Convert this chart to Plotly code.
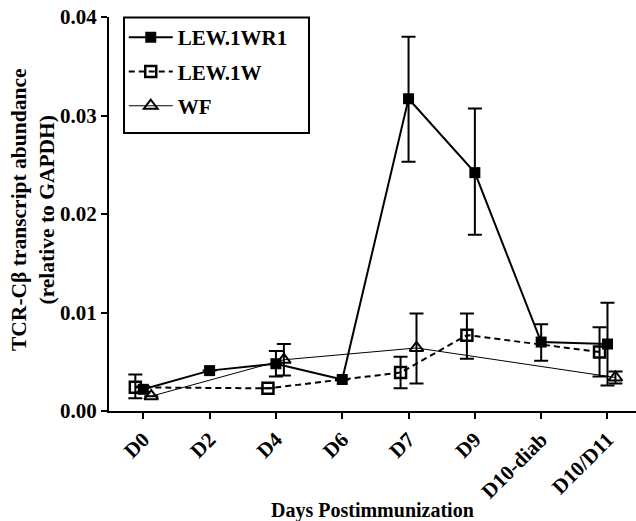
import plotly.graph_objects as go

categories = ["D0", "D2", "D4", "D6", "D7", "D9", "D10-diab", "D10/D11"]

# LEW.1WR1 (mean, +err, -err)
wr1_mean = [0.0022, 0.0041, 0.0048, 0.0032, 0.0317, 0.0242, 0.0070, 0.0068]
wr1_up   = [0.0003, 0.0, 0.0013, 0.0, 0.0063, 0.0065, 0.0018, 0.0042]
wr1_dn   = [0.0003, 0.0, 0.0013, 0.0, 0.0064, 0.0063, 0.0019, 0.0042]

# LEW.1W
w_mean = [0.0024, None, 0.0023, None, 0.0039, 0.0077, None, 0.0060]
w_up   = [0.0013, 0.0, 0.0, 0.0, 0.0016, 0.0022, 0.0, 0.0025]
w_dn   = [0.0011, 0.0, 0.0, 0.0, 0.0016, 0.0024, 0.0, 0.0025]

# WF
wf_mean = [0.0015, None, 0.0052, None, 0.0064, None, None, 0.0034]
wf_up   = [0.0, 0.0, 0.0016, 0.0, 0.0035, 0.0, 0.0, 0.0006]
wf_dn   = [0.0, 0.0, 0.0016, 0.0, 0.0036, 0.0, 0.0, 0.0006]

FONT = "Liberation Serif"
idx = list(range(len(categories)))

def xs(offset):
    return [i + offset for i in idx]

fig = go.Figure()

err_style = dict(type="data", symmetric=False, thickness=2, width=7, color="black")

fig.add_trace(go.Scatter(
    x=xs(0.12), y=wf_mean, name="WF", mode="lines+markers", connectgaps=True,
    line=dict(color="black", width=1),
    marker=dict(symbol="triangle-up-open", size=12, color="black", line=dict(width=2)),
    error_y=dict(array=wf_up, arrayminus=wf_dn, **err_style),
    legendrank=3, legendgroup="c",
))
fig.add_trace(go.Scatter(
    x=xs(-0.12), y=w_mean, name="LEW.1W", mode="lines+markers", connectgaps=True,
    line=dict(color="black", width=2, dash="6px,4px"),
    marker=dict(symbol="square-open", size=11, color="black", line=dict(width=2.5)),
    error_y=dict(array=w_up, arrayminus=w_dn, **err_style),
    legendrank=2, legendgroup="b",
))
fig.add_trace(go.Scatter(
    x=xs(0.0), y=wr1_mean, name="LEW.1WR1", mode="lines+markers", connectgaps=True,
    line=dict(color="black", width=2),
    marker=dict(symbol="square", size=11, color="black"),
    error_y=dict(array=wr1_up, arrayminus=wr1_dn, **err_style),
    legendrank=1, legendgroup="a",
))

fig.update_layout(
    width=636, height=521,
    margin=dict(l=109, r=0, t=17, b=110, autoexpand=False),
    paper_bgcolor="white", plot_bgcolor="white",
    font=dict(family=FONT, color="black", size=21, weight="bold"),
    showlegend=True,
    legend=dict(
        x=0.028, y=1, xanchor="left", yanchor="top",
        borderwidth=0, bgcolor="rgba(0,0,0,0)",
        font=dict(family=FONT, size=21, weight="bold"),
        traceorder="grouped", tracegroupgap=4, itemwidth=44,
    ),
    shapes=[dict(
        type="rect", xref="paper", yref="paper",
        x0=0.0285, x1=0.3795, y0=0.7056, y1=0.999,
        line=dict(color="black", width=2), fillcolor="rgba(0,0,0,0)", layer="above",
    )],
    xaxis=dict(
        range=[-0.517, 7.43], tickmode="array", tickvals=idx, ticktext=categories,
        tickangle=-45, showline=True, linecolor="black", linewidth=2,
        ticks="outside", ticklen=6, tickwidth=2, tickcolor="black",
        showgrid=False, zeroline=False, automargin=False,
        tickfont=dict(family=FONT, size=21, weight="bold"),
    ),
    yaxis=dict(
        range=[0, 0.04], tickmode="linear", tick0=0, dtick=0.01, tickformat=".2f",
        showline=True, linecolor="black", linewidth=2,
        ticks="outside", ticklen=6, tickwidth=2, tickcolor="black",
        showgrid=False, zeroline=False, automargin=False,
        tickfont=dict(family=FONT, size=21, weight="bold"),
    ),
    annotations=[
        dict(
            text="TCR-Cβ transcript abundance<br>(relative to GAPDH)",
            xref="paper", yref="paper", x=0, y=0.5, xanchor="center", yanchor="middle",
            xshift=-76, yshift=4, textangle=-90, showarrow=False,
            font=dict(family=FONT, size=21.5, weight="bold"),
        ),
        dict(
            text="Days Postimmunization",
            xref="paper", yref="paper", x=0.5, y=0, xanchor="center", yanchor="middle",
            yshift=-99, showarrow=False,
            font=dict(family=FONT, size=20, weight="bold"),
        ),
    ],
)

fig.write_html("out.html", post_script="document.body.style.margin='0px';",
               config={"displayModeBar": False})
